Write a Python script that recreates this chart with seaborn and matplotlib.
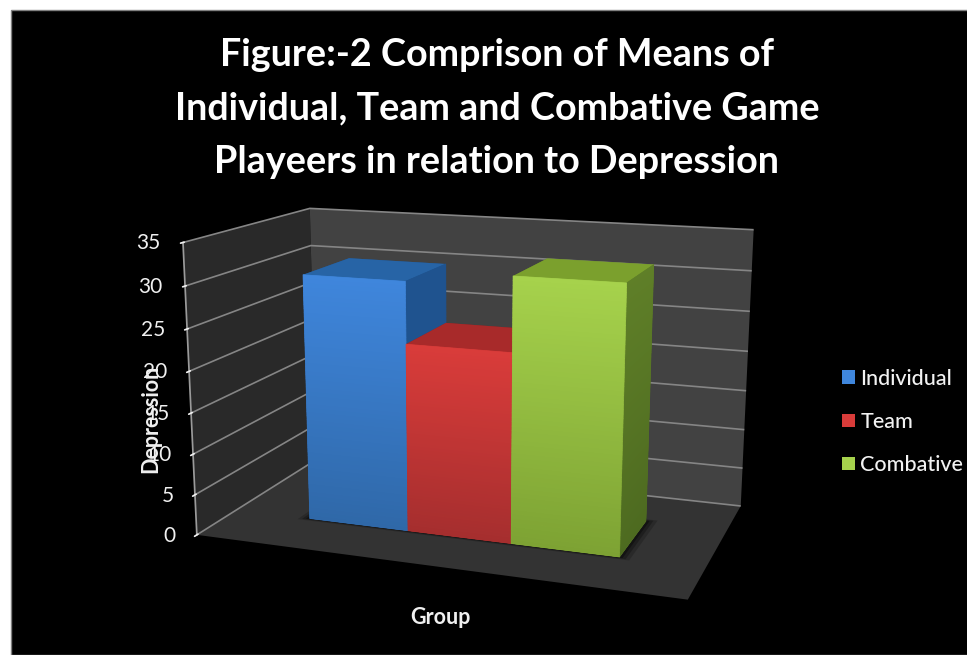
import numpy as np
import pandas as pd
import seaborn as sns
import matplotlib
matplotlib.use("Agg")
import matplotlib.pyplot as plt
from matplotlib.colors import to_rgb
from matplotlib.patches import Patch, Rectangle
from mpl_toolkits.mplot3d.art3d import Poly3DCollection

groups = ["Individual", "Team", "Combative"]
depression_means = [30.3, 22.9, 31.7]
depression_ticks = [0, 5, 10, 15, 20, 25, 30, 35]
title_lines = ["Figure:-2 Comprison of Means of",
               "Individual, Team and Combative Game",
               "Playeers in relation to Depression"]

means = pd.DataFrame({"group": groups, "depression": depression_means})

sns.set_theme(style="dark", rc={
    "grid.color": "#858585",
    "grid.linewidth": 1.2,
    "axes.edgecolor": "#9a9a9a",
})
plt.rcParams["font.family"] = ["Lato", "DejaVu Sans"]

# Lit front, shaded front, side and top tones for each bar
tones = {
    "Individual": ("#3f86dc", "#2f68a8", "#1f538f", "#2764a6"),
    "Team": ("#d93c3a", "#a52e2e", "#8a2222", "#a82a2a"),
    "Combative": ("#a6d24c", "#7da233", "#5f7f28", "#7ba02d"),
}

W, H = 967, 655
fig = plt.figure(figsize=(W / 100, H / 100), dpi=100, facecolor="white")
fig.add_artist(Rectangle((11 / W, 0), 1, 1 - 10 / H, transform=fig.transFigure,
                         facecolor="black", edgecolor="#808080", linewidth=1, zorder=-1))

# The 3-D box sits on a square axes that overhangs the bottom of the figure
side = 616.6
ax = fig.add_axes([160.3 / W, -43 / H, side / W, side / H], projection="3d",
                  computed_zorder=False)
ax.patch.set_visible(False)
ax.view_init(elev=13.924, azim=-70.369, roll=-0.066)
ax.set_proj_type("persp", focal_length=0.44)
ax.set_box_aspect((1.6873, 0.9313, 1))
ax.set_xlim(0, 1, view_margin=0)
ax.set_ylim(0, 1, view_margin=0)
ax.set_zlim(0, 35, view_margin=0)

ax.set_xticks([])
ax.set_yticks([])
ax.set_zticks(depression_ticks)
ax.xaxis.set_pane_color("#292929")
ax.yaxis.set_pane_color("#424242")
ax.zaxis.set_pane_color("#333333")
ax.xaxis.pane.set_edgecolor("none")
ax.yaxis.pane.set_edgecolor("none")
ax.zaxis.pane.set_edgecolor("none")
ax.xaxis.line.set_color((0, 0, 0, 0))
ax.yaxis.line.set_color((0, 0, 0, 0))
ax.zaxis.line.set_color("#9a9a9a")
ax.zaxis.set_ticks_position("lower")
ax.tick_params(axis="z", colors="#f0f0f0", labelsize=15, pad=0.5)
ax.grid(True)

# Right-align the depression tick labels and centre them on their gridlines
for tick in ax.zaxis.get_major_ticks():
    tick.label1.set_ha("right")
    tick.label1.set_va("center")

bar_left = 0.1701
bar_width = 0.2206
depth_front, depth_back = 0.3025, 0.7033

# Soft contact shadow on the floor, built from nested translucent rectangles
x_end = bar_left + bar_width * len(groups)
for grow, alpha in [(0.022, 0.18), (0.014, 0.25), (0.007, 0.35)]:
    x0, x1 = bar_left - grow, x_end + grow
    y0, y1 = depth_front - grow, depth_back + grow
    floor = [[(x0, y0, 0), (x1, y0, 0), (x1, y1, 0), (x0, y1, 0)]]
    ax.add_collection3d(Poly3DCollection(floor, facecolor="black", alpha=alpha,
                                         edgecolor="none", zorder=1))


def gradient_wall(a, b, height, top, bottom, order):
    """Paint a vertical bar face between floor points a and b, shaded bottom to top."""
    levels = np.linspace(0, height, 61)
    quads = [[(*a, z0), (*b, z0), (*b, z1), (*a, z1)] for z0, z1 in zip(levels[:-1], levels[1:])]
    t = ((levels[:-1] + levels[1:]) / 2 / height)[:, None]
    shades = np.array(to_rgb(bottom)) * (1 - t) + np.array(to_rgb(top)) * t
    ax.add_collection3d(Poly3DCollection(quads, facecolors=shades, edgecolors=shades,
                                         linewidths=0.5, zorder=order))


# Bars go back to front in the order the camera sees them: left to right
for i, row in means.iterrows():
    lit, dim, side_tone, top_tone = tones[row["group"]]
    x0 = bar_left + i * bar_width
    x1 = x0 + bar_width
    order = 2 + i * 3
    colors = [dim, top_tone, lit, side_tone, side_tone, side_tone]
    ax.bar3d(x0, depth_front, 0, bar_width, depth_back - depth_front, row["depression"],
             color=colors, shade=False, edgecolor="none", zorder=order)
    side_bottom = "#4d6a20" if row["group"] == "Combative" else side_tone
    gradient_wall((x1, depth_front), (x1, depth_back), row["depression"],
                  side_tone, side_bottom, order + 1)
    gradient_wall((x0, depth_front), (x1, depth_front), row["depression"],
                  lit, dim, order + 2)

for i, line in enumerate(title_lines):
    fig.text(497 / W, 1 - (55 + i * 53.5) / H, line, ha="center", va="center",
             color="white", fontsize=27.2, fontweight="bold")

fig.text(440 / W, 1 - 618 / H, "Group", ha="center", va="center",
         color="#f0f0f0", fontsize=15.5, fontweight="bold")
fig.text(151 / W, 1 - 419 / H, "Depression", ha="center", va="center", rotation=90,
         color="#f0f0f0", fontsize=15.5, fontweight="bold")

handles = [Patch(facecolor=tones[g][0], edgecolor="none", label=g) for g in groups]
fig.legend(handles=handles, loc="center left", bbox_to_anchor=(842 / W, 1 - 422 / H),
           frameon=False, prop={"size": 15.5, "weight": "medium"}, labelcolor="#f2f2f2",
           handlelength=0.6, handleheight=0.6, handletextpad=0.25, labelspacing=1.08,
           borderpad=0, borderaxespad=0)

fig.savefig("out.png", dpi=100, facecolor="white")
